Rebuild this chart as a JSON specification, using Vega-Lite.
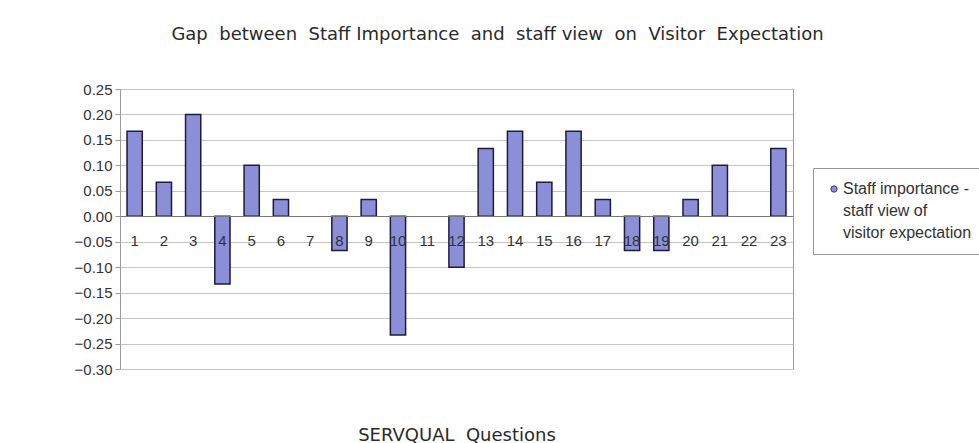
{
  "$schema": "https://vega.github.io/schema/vega-lite/v6.json",
  "width": 673,
  "height": 280,
  "autosize": {"type": "none"},
  "padding": {"left": 120, "top": 89, "right": 186, "bottom": 74},
  "background": "white",
  "title": {
    "text": "Gap\u00a0 between\u00a0 Staff Importance\u00a0 and\u00a0 staff view\u00a0 on\u00a0 Visitor\u00a0 Expectation",
    "font": "DejaVu Sans",
    "fontSize": 18,
    "fontWeight": "normal",
    "color": "#2a2a2a",
    "anchor": "middle",
    "dx": 41,
    "offset": 38
  },
  "data": {
    "values": [
      {"question": "1", "gap": 0.167, "series": "Staff importance - staff view of visitor expectation"},
      {"question": "2", "gap": 0.067, "series": "Staff importance - staff view of visitor expectation"},
      {"question": "3", "gap": 0.2, "series": "Staff importance - staff view of visitor expectation"},
      {"question": "4", "gap": -0.133, "series": "Staff importance - staff view of visitor expectation"},
      {"question": "5", "gap": 0.1, "series": "Staff importance - staff view of visitor expectation"},
      {"question": "6", "gap": 0.033, "series": "Staff importance - staff view of visitor expectation"},
      {"question": "7", "gap": 0, "series": "Staff importance - staff view of visitor expectation"},
      {"question": "8", "gap": -0.067, "series": "Staff importance - staff view of visitor expectation"},
      {"question": "9", "gap": 0.033, "series": "Staff importance - staff view of visitor expectation"},
      {"question": "10", "gap": -0.233, "series": "Staff importance - staff view of visitor expectation"},
      {"question": "11", "gap": 0, "series": "Staff importance - staff view of visitor expectation"},
      {"question": "12", "gap": -0.1, "series": "Staff importance - staff view of visitor expectation"},
      {"question": "13", "gap": 0.133, "series": "Staff importance - staff view of visitor expectation"},
      {"question": "14", "gap": 0.167, "series": "Staff importance - staff view of visitor expectation"},
      {"question": "15", "gap": 0.067, "series": "Staff importance - staff view of visitor expectation"},
      {"question": "16", "gap": 0.167, "series": "Staff importance - staff view of visitor expectation"},
      {"question": "17", "gap": 0.033, "series": "Staff importance - staff view of visitor expectation"},
      {"question": "18", "gap": -0.067, "series": "Staff importance - staff view of visitor expectation"},
      {"question": "19", "gap": -0.067, "series": "Staff importance - staff view of visitor expectation"},
      {"question": "20", "gap": 0.033, "series": "Staff importance - staff view of visitor expectation"},
      {"question": "21", "gap": 0.1, "series": "Staff importance - staff view of visitor expectation"},
      {"question": "22", "gap": 0, "series": "Staff importance - staff view of visitor expectation"},
      {"question": "23", "gap": 0.133, "series": "Staff importance - staff view of visitor expectation"}
    ]
  },
  "mark": {"type": "bar", "stroke": "#1c1c3c", "strokeWidth": 1.5},
  "encoding": {
    "x": {
      "field": "question",
      "type": "ordinal",
      "sort": null,
      "scale": {"paddingInner": 0.48, "paddingOuter": 0.24},
      "axis": {
        "title": "SERVQUAL\u00a0 Questions",
        "titleFont": "DejaVu Sans",
        "titleFontSize": 18,
        "titleFontWeight": "normal",
        "titleColor": "#2a2a2a",
        "titleY": 219,
        "titleBaseline": "middle",
        "offset": -153,
        "zindex": 1,
        "labelAngle": 0,
        "labelFont": "Liberation Sans",
        "labelFontSize": 15,
        "labelColor": "#333333",
        "labelPadding": 17,
        "ticks": false,
        "domainColor": "#777777",
        "grid": false
      }
    },
    "y": {
      "field": "gap",
      "type": "quantitative",
      "scale": {"domain": [-0.3, 0.25], "nice": false, "zero": false},
      "axis": {
        "title": null,
        "values": [-0.3, -0.25, -0.2, -0.15, -0.1, -0.05, 0, 0.05, 0.1, 0.15, 0.2, 0.25],
        "format": ".2f",
        "labelFont": "Liberation Sans",
        "labelFontSize": 15,
        "labelColor": "#333333",
        "labelPadding": 3,
        "tickColor": "#999999",
        "tickSize": 5,
        "domain": false,
        "grid": true,
        "gridColor": "#c4c4c4"
      }
    },
    "strokeOpacity": {
      "condition": {"test": "datum.gap === 0", "value": 0},
      "value": 1
    },
    "color": {
      "field": "series",
      "type": "nominal",
      "scale": {"range": ["#8a8fd8"]},
      "legend": {
        "title": null,
        "orient": "none",
        "legendX": 693,
        "legendY": 79,
        "symbolType": "circle",
        "symbolSize": 40,
        "symbolStrokeColor": "#3a3a7a",
        "symbolStrokeWidth": 1,
        "labelFont": "Liberation Sans",
        "labelFontSize": 16,
        "labelColor": "#333333",
        "labelLimit": 400,
        "labelOffset": 1,
        "labelExpr": "['Staff importance -', ' staff view of', ' visitor expectation']",
        "strokeColor": "#999999",
        "fillColor": "white",
        "padding": 13
      }
    }
  },
  "config": {
    "view": {"stroke": "#9a9a9a", "strokeWidth": 1},
    "style": {"guide-label": {"lineHeight": 22}}
  }
}
